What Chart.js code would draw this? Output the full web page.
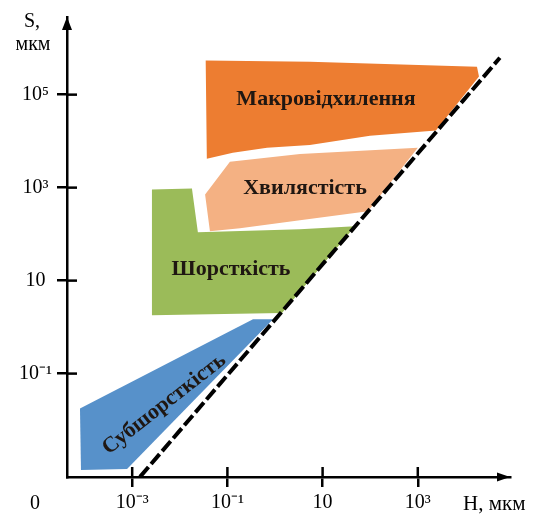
<!DOCTYPE html>
<html>
<head>
<meta charset="utf-8">
<script src="https://cdn.jsdelivr.net/npm/chart.js@4.4.1/dist/chart.umd.min.js"></script>
<style>
  html, body { margin: 0; padding: 0; background: #ffffff; }
  #c { display: block; }
</style>
</head>
<body>
<canvas id="c" width="534" height="517"></canvas>
<script>
// Log-log diagram of surface irregularity classes: spacing S vs height H (мкм)

// Axis ticks and their labels
const hTicks = [1e-3, 1e-1, 10, 1e3];
const hTickLabels = ['10⁻³', '10⁻¹', '10', '10³'];
const sTicks = [1e-1, 10, 1e3, 1e5];
const sTickLabels = ['10⁻¹', '10', '10³', '10⁵'];

// Region outlines, [H, S] vertex pairs in мкм
const macroDeviation = [[0.035, 5.4e5], [5.4, 5.1e5], [1.75e4, 4.0e5], [1.93e4, 2.45e5], [2400, 1.7e4],
                        [99, 1.3e4], [5.4, 8300], [0.68, 7200], [0.13, 5600], [0.037, 4200]];
const waviness = [[0.113, 3600], [3.35, 5300], [1000, 7200], [90, 310], [3.35, 200],
                  [0.184, 134], [0.043, 116], [0.034, 710]];
const roughness = [[0.0026, 910], [0.018, 960], [0.024, 110], [3.35, 128], [48, 148],
                   [1.4, 2.0], [0.0026, 1.8]];
const subRoughness = [[8.0e-5, 0.0177], [0.345, 1.47], [0.91, 1.47], [7.8e-4, 8.9e-4], [8.4e-5, 8.4e-4]];

// Limiting boundary line (dashed)
const boundary = [[1.46e-3, 6.0e-4], [5.3e4, 6.2e5]];

// Region names
const regionNames = ['Макровідхилення', 'Хвилястість', 'Шорсткість', 'Субшорсткість'];
const regionColors = ['#ED7D31', '#F4B183', '#9BBB59', '#5791CA'];

// Where each name sits, in axis units, and its rotation
const nameAnchors = [
  { h: 11.8, s: 7.9e4, angle: 0 },
  { h: 4.27, s: 957, angle: 0 },
  { h: 0.119, s: 17.1, angle: 0 },
  { h: 0.0047, s: 0.022, angle: -38 }
];

const SERIF = '"Liberation Serif", "Times New Roman", serif';

const closed = pts => pts.concat([pts[0]]).map(([x, y]) => ({ x, y }));

const regionSets = [macroDeviation, waviness, roughness, subRoughness].map((pts, i) => ({
  data: closed(pts),
  backgroundColor: regionColors[i],
  borderWidth: 0,
  pointRadius: 0,
  fill: 'shape',
  tension: 0,
  order: 2
}));

const boundarySet = {
  data: boundary.map(([x, y]) => ({ x, y })),
  borderColor: '#000000',
  borderWidth: 4,
  borderDash: [13, 4],
  borderCapStyle: 'butt',
  pointRadius: 0,
  fill: false,
  order: 0
};

const extras = {
  id: 'extras',
  afterDatasetsDraw(chart) {
    const { ctx, scales: { x, y } } = chart;
    ctx.save();
    ctx.fillStyle = '#1f1712';
    ctx.font = 'bold 22px ' + SERIF;
    ctx.textAlign = 'center';
    ctx.textBaseline = 'middle';
    nameAnchors.forEach((a, i) => {
      const px = x.getPixelForValue(a.h);
      const py = y.getPixelForValue(a.s);
      ctx.save();
      ctx.translate(px, py);
      ctx.rotate(a.angle * Math.PI / 180);
      ctx.fillText(regionNames[i], 0, 0);
      ctx.restore();
    });
    ctx.restore();
  },
  afterDraw(chart) {
    const { ctx, chartArea: ca, scales: { x, y } } = chart;
    ctx.save();
    ctx.strokeStyle = '#000';
    ctx.fillStyle = '#000';
    ctx.lineWidth = 2.5;
    // inner halves of the tick marks, so they cross the axes
    x.ticks.forEach(t => {
      const px = x.getPixelForValue(t.value);
      ctx.beginPath(); ctx.moveTo(px, ca.bottom); ctx.lineTo(px, ca.bottom - 10); ctx.stroke();
    });
    y.ticks.forEach(t => {
      const py = y.getPixelForValue(t.value);
      ctx.beginPath(); ctx.moveTo(ca.left, py); ctx.lineTo(ca.left + 10, py); ctx.stroke();
    });
    // arrowheads
    ctx.beginPath();
    ctx.moveTo(ca.left, ca.top);
    ctx.lineTo(ca.left - 5, ca.top + 13);
    ctx.lineTo(ca.left + 5, ca.top + 13);
    ctx.closePath(); ctx.fill();
    ctx.beginPath();
    ctx.moveTo(ca.right, ca.bottom);
    ctx.lineTo(ca.right - 13, ca.bottom - 4.5);
    ctx.lineTo(ca.right - 13, ca.bottom + 4.5);
    ctx.closePath(); ctx.fill();
    // axis titles and origin
    ctx.textAlign = 'center';
    ctx.textBaseline = 'alphabetic';
    ctx.font = '20px ' + SERIF;
    ctx.fillText('S,', 32, 27);
    ctx.fillText('мкм', 33, 50);
    ctx.font = '21px ' + SERIF;
    ctx.textAlign = 'left';
    ctx.fillText('H, мкм', 463, 510);
    ctx.textAlign = 'center';
    ctx.font = '20px ' + SERIF;
    ctx.fillText('0', 35, 509);
    ctx.restore();
  }
};

const axisCommon = {
  type: 'logarithmic',
  bounds: 'data',
  grid: { display: true, drawOnChartArea: false, drawTicks: true, tickLength: 10, lineWidth: 2.5, color: '#000' },
  border: { display: true, color: '#000', width: 2.5 }
};

new Chart(document.getElementById('c'), {
  type: 'line',
  data: { datasets: [boundarySet, ...regionSets] },
  options: {
    responsive: false,
    animation: false,
    devicePixelRatio: 1,
    layout: { padding: { top: 13, right: 24, left: 0, bottom: 0 } },
    plugins: { legend: { display: false }, tooltip: { enabled: false } },
    scales: {
      x: {
        ...axisCommon,
        position: 'bottom',
        min: 4.27e-5,
        max: 8.65e4,
        afterBuildTicks: s => { s.ticks = hTicks.map(v => ({ value: v })); },
        afterFit: s => { s.height = 40; },
        ticks: {
          autoSkip: false, maxRotation: 0, minRotation: 0, padding: 4,
          color: '#000', font: { family: SERIF, size: 20 },
          callback: (v, i) => hTickLabels[i]
        }
      },
      y: {
        ...axisCommon,
        position: 'left',
        min: 5.97e-4,
        max: 4.68e6,
        afterBuildTicks: s => { s.ticks = sTicks.map(v => ({ value: v })); },
        afterFit: s => { s.width = 67; },
        ticks: {
          autoSkip: false, padding: 5, crossAlign: 'center',
          color: '#000', font: { family: SERIF, size: 20 },
          callback: (v, i) => sTickLabels[i]
        }
      }
    }
  },
  plugins: [extras]
});
</script>
</body>
</html>
